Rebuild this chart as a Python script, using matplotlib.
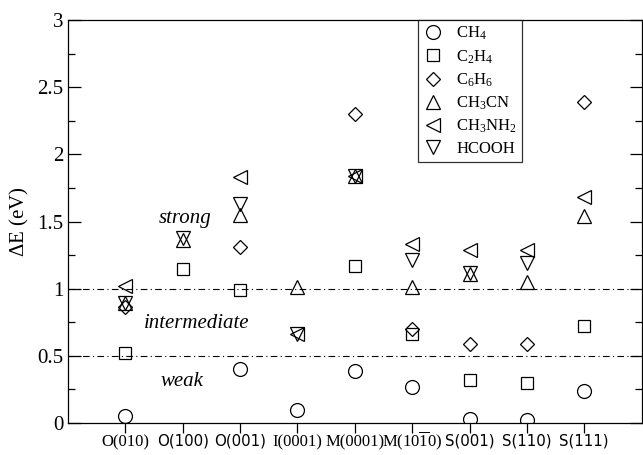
import numpy as np
import matplotlib
matplotlib.use("Agg")
import matplotlib.pyplot as plt
from matplotlib.ticker import MultipleLocator, FuncFormatter

nan = np.nan
surfaces = ["O(010)", "O(100)", "O(001)", "I(0001)", "M(0001)",
            r"M(10$\overline{1}$0)", "S(001)", "S(110)", "S(111)"]
sans_labels = {"O(100)", "O(001)", "S(001)", "S(110)", "S(111)"}

ch4 = [0.05, nan, 0.40, 0.10, 0.39, 0.27, 0.03, 0.02, 0.24]
c2h4 = [0.52, 1.15, 0.99, nan, 1.17, 0.66, 0.32, 0.30, 0.72]
c6h6 = [0.86, nan, 1.31, nan, 2.30, 0.70, 0.59, 0.59, 2.39]
ch3cn = [0.89, 1.36, 1.55, 1.01, 1.84, 1.01, 1.11, 1.05, 1.54]
ch3nh2 = [1.02, nan, 1.83, 0.66, 1.84, 1.33, 1.29, 1.29, 1.68]
hcooh = [0.89, 1.38, 1.63, 0.66, 1.84, 1.21, 1.12, 1.19, nan]

series = [
    (ch4, "o", r"CH$_4$", 10),
    (c2h4, "s", r"C$_2$H$_4$", 9),
    (c6h6, "D", r"C$_6$H$_6$", 7.5),
    (ch3cn, "^", r"CH$_3$CN", 10),
    (ch3nh2, "<", r"CH$_3$NH$_2$", 10),
    (hcooh, "v", "HCOOH", 10),
]

plt.rcParams['font.family'] = ['Liberation Serif', 'DejaVu Serif']
plt.rcParams['mathtext.fontset'] = 'custom'
plt.rcParams['mathtext.rm'] = 'Liberation Serif'
plt.rcParams['mathtext.it'] = 'Liberation Serif:italic'

fig = plt.figure(figsize=(6.43, 4.55), dpi=100)
ax = fig.add_axes([0.1058, 0.0703, 0.892, 0.8857])

x = np.arange(1, len(surfaces) + 1)
for vals, m, lab, ms in series:
    ax.plot(x, vals, linestyle="none", marker=m, markersize=ms,
            markerfacecolor="none", markeredgecolor="black",
            markeredgewidth=0.9, label=lab)

for yv in (0.5, 1.0):
    ax.axhline(yv, color="black", lw=0.8, ls=(0, (6, 3, 1, 3)))

ax.set_xlim(0, 10)
ax.set_ylim(0, 3)
ax.set_xticks(x)
ax.set_xticklabels(surfaces, fontsize=12)
for t, s in zip(ax.get_xticklabels(), surfaces):
    t.set_va("baseline")
    if s in sans_labels:
        t.set_family("DejaVu Sans")
        t.set_fontsize(10.8)
ax.yaxis.set_major_locator(MultipleLocator(0.5))
ax.yaxis.set_minor_locator(MultipleLocator(0.25))
ax.yaxis.set_major_formatter(FuncFormatter(lambda v, p: f"{v:g}"))
ax.tick_params(axis="y", which="major", direction="in", length=9,
               labelsize=15, right=True, width=0.9)
ax.tick_params(axis="y", which="minor", direction="in", length=5,
               right=True, width=0.9)
ax.tick_params(axis="x", which="major", direction="out", length=7,
               width=0.9, top=False, pad=9.5)
for sp in ax.spines.values():
    sp.set_linewidth(0.9)

ax.set_ylabel(r"$\Delta$E (eV)", fontsize=15, labelpad=4)

ax.text(2.05, 1.52, "strong", style="italic", fontsize=15, ha="center", va="center")
ax.text(2.24, 0.74, "intermediate", style="italic", fontsize=15, ha="center", va="center")
ax.text(1.98, 0.31, "weak", style="italic", fontsize=15, ha="center", va="center")

leg = ax.legend(loc="upper left", bbox_to_anchor=(0.61, 1.0), fontsize=12,
                frameon=True, fancybox=False, edgecolor="black",
                borderpad=0.3, labelspacing=0.35, handletextpad=0.8,
                handlelength=1.2, borderaxespad=0)
leg.get_frame().set_linewidth(0.9)

fig.savefig("out.png", dpi=100)
